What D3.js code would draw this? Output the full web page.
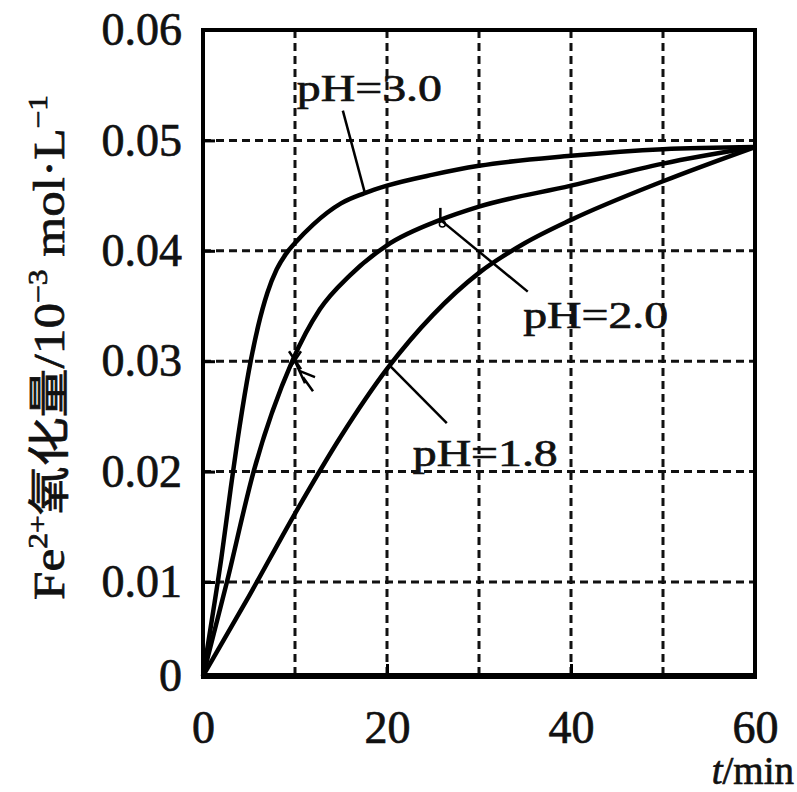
<!DOCTYPE html>
<html><head><meta charset="utf-8">
<script src="https://cdn.jsdelivr.net/npm/d3@7"></script>
<style>
html,body{margin:0;padding:0;background:#fff;}
svg{display:block;}
text{font-family:"Liberation Serif","Times New Roman",serif;fill:#111;stroke:#111;stroke-width:0.7px;}
</style></head>
<body>
<svg id="c" width="797" height="792"></svg>
<script>
// ---- data ----
const xTicks = [0, 20, 40, 60];
const xGrid = [10, 20, 30, 40, 50];
const yTicks = [0, 0.01, 0.02, 0.03, 0.04, 0.05, 0.06];
const yTickLabels = ["0", "0.01", "0.02", "0.03", "0.04", "0.05", "0.06"];
const yGrid = [0.01, 0.02, 0.03, 0.04, 0.05];

const tPH30 = [0, 1, 2, 3, 4, 5, 6, 7, 8, 9, 10, 12, 15, 17.5, 20, 25, 30, 40, 50, 60];
const vPH30 = [0, 0.0062, 0.0122, 0.0184, 0.0242, 0.0292, 0.0332, 0.0362, 0.0383, 0.0397, 0.0407, 0.0424, 0.0443, 0.0452, 0.0459, 0.0469, 0.0477, 0.0486, 0.0492, 0.0494];

const tPH20 = [0, 2.6, 5.5, 9.7, 12.7, 16, 20, 25.8, 30, 40, 50, 60];
const vPH20 = [0, 0.01, 0.02, 0.03, 0.0347, 0.0378, 0.0405, 0.0428, 0.044, 0.0459, 0.0479, 0.0494];

const tPH18 = [0, 5, 10, 15, 20, 25, 30, 35, 40, 50, 60];
const vPH18 = [0, 0.0085, 0.0162, 0.0232, 0.0293, 0.0342, 0.038, 0.0407, 0.0428, 0.0463, 0.0494];

// curve labels and their leader lines (in data units)
const labelText = ["pH=3.0", "pH=2.0", "pH=1.8"];
const labelT = [10.2, 34.8, 22.8];
const labelV = [0.0536, 0.033, 0.0205];
const leaderT = [15.2, 35.3, 26.5];
const leaderV = [0.0527, 0.0363, 0.0244];
const leaderCurveT = [17.6, 25.8, 20.3];

// ---- layout ----
const L = 203, R = 755, T = 30, B = 676;
const svg = d3.select("#c");
const x = d3.scaleLinear().domain([0, 60]).range([L, R]);
const y = d3.scaleLinear().domain([0, 0.01, 0.06]).range([B, 582, T]);

const series = [
  tPH30.map((t, i) => [t, vPH30[i]]),
  tPH20.map((t, i) => [t, vPH20[i]]),
  tPH18.map((t, i) => [t, vPH18[i]])
];

// grid
const g = svg.append("g");
g.selectAll(".vg").data(xGrid).join("line")
  .attr("x1", d => x(d)).attr("x2", d => x(d)).attr("y1", T).attr("y2", B)
  .attr("stroke", "#111").attr("stroke-width", 3).attr("stroke-dasharray", "8,5");
g.selectAll(".hg").data(yGrid).join("line")
  .attr("y1", d => y(d)).attr("y2", d => y(d)).attr("x1", L).attr("x2", R)
  .attr("stroke", "#111").attr("stroke-width", 3).attr("stroke-dasharray", "8,5");

// labels
labelText.forEach((s, i) => {
  svg.append("text").attr("x", x(labelT[i])).attr("y", y(labelV[i]))
    .attr("font-size", 38).attr("textLength", 145).attr("lengthAdjust", "spacingAndGlyphs")
    .text(s);
});

// curves
const line = d3.line().x(d => x(d[0])).y(d => y(d[1])).curve(d3.curveMonotoneX);
svg.selectAll(".curve").data(series).join("path")
  .attr("d", line).attr("fill", "none").attr("stroke", "#000").attr("stroke-width", 4.5)
  .attr("stroke-linejoin", "round");

function valAt(s, t) {
  for (let i = 1; i < s.length; i++) {
    if (t <= s[i][0]) {
      const a = s[i - 1], b = s[i];
      return a[1] + (b[1] - a[1]) * (t - a[0]) / (b[0] - a[0]);
    }
  }
  return s[s.length - 1][1];
}

// leader lines
leaderT.forEach((lt, i) => {
  const ct = leaderCurveT[i];
  svg.append("line")
    .attr("x1", x(lt)).attr("y1", y(leaderV[i]))
    .attr("x2", x(ct)).attr("y2", y(valAt(series[i], ct)))
    .attr("stroke", "#000").attr("stroke-width", 2.5);
});
{
  const ct = leaderCurveT[1];
  const cy = y(valAt(series[1], ct));
  svg.append("line").attr("x1", x(ct)).attr("x2", x(ct)).attr("y1", cy - 12).attr("y2", cy + 3)
    .attr("stroke", "#000").attr("stroke-width", 2.5);
  svg.append("circle").attr("cx", x(ct) + 2).attr("cy", cy + 4).attr("r", 3)
    .attr("fill", "none").attr("stroke", "#000").attr("stroke-width", 1.5);
}
{
  const my = y(valAt(series[1], 9.7));
  const mx = x(10);
  svg.append("path")
    .attr("d", `M${mx - 6},${my - 10}L${mx + 6},${my + 8}M${mx + 6},${my - 10}L${mx - 6},${my + 8}M${mx},${my}L${mx + 10},${my + 22}M${mx + 5},${my + 10}L${mx + 20},${my + 16}M${mx + 8},${my + 16}L${mx + 18},${my + 30}`)
    .attr("stroke", "#000").attr("stroke-width", 2.5).attr("fill", "none");
}

// frame
svg.append("rect").attr("x", L).attr("y", T).attr("width", R - L).attr("height", B - T)
  .attr("fill", "none").attr("stroke", "#000").attr("stroke-width", 4);
svg.append("line").attr("x1", L - 2).attr("x2", R + 2).attr("y1", B).attr("y2", B)
  .attr("stroke", "#000").attr("stroke-width", 6);

// axes
const yAxis = d3.axisLeft(y).tickValues(yTicks).tickSize(-12).tickFormat((d, i) => yTickLabels[i]);
const ya = svg.append("g").attr("transform", `translate(${L},0)`).call(yAxis);
ya.select(".domain").remove();
ya.selectAll(".tick line").attr("stroke", "#000").attr("stroke-width", 3);
ya.selectAll(".tick text").attr("x", -21).attr("font-size", 46)
  .attr("font-family", '"Liberation Serif","Times New Roman",serif').attr("fill", "#111");

const xAxis = d3.axisBottom(x).tickValues(xTicks).tickSize(-12).tickFormat(d3.format("d"));
const xa = svg.append("g").attr("transform", `translate(0,${B})`).call(xAxis);
xa.select(".domain").remove();
xa.selectAll(".tick line").attr("stroke", "#000").attr("stroke-width", 3);
xa.selectAll(".tick text").attr("y", 34).attr("font-size", 46)
  .attr("font-family", '"Liberation Serif","Times New Roman",serif').attr("fill", "#111");

// x axis title
const xt = svg.append("text").attr("x", 794).attr("y", 784).attr("text-anchor", "end").attr("font-size", 39);
xt.append("tspan").attr("font-style", "italic").text("t");
xt.append("tspan").text("/min");

// y axis title
const yt = svg.append("text").attr("transform", "translate(64,600) rotate(-90)")
  .attr("font-size", 44).attr("textLength", 505).attr("lengthAdjust", "spacingAndGlyphs");
yt.append("tspan").text("Fe");
yt.append("tspan").attr("dy", -17).attr("font-size", 27).text("2+");
yt.append("tspan").attr("dy", 17).attr("font-family", '"Noto Sans CJK SC",sans-serif').attr("font-size", 42).text("氧化量");
yt.append("tspan").text("/10");
yt.append("tspan").attr("dy", -17).attr("font-size", 27).text("−3");
yt.append("tspan").attr("dy", 17).text(" mol·L");
yt.append("tspan").attr("dy", -17).attr("font-size", 27).text("−1");
</script>
</body></html>
